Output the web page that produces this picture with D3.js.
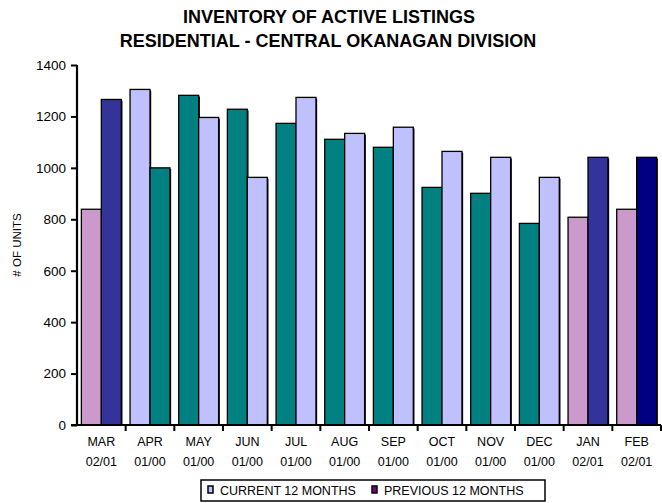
<!DOCTYPE html>
<html>
<head>
<meta charset="utf-8">
<script src="https://cdn.jsdelivr.net/npm/d3@7"></script>
<style>
  body { margin: 0; background: #fff; }
  text { font-family: "Liberation Sans", Arial, sans-serif; }
</style>
</head>
<body>
<div id="chart"></div>
<script>
var months = ["MAR", "APR", "MAY", "JUN", "JUL", "AUG", "SEP", "OCT", "NOV", "DEC", "JAN", "FEB"];
var periods = ["02/01", "01/00", "01/00", "01/00", "01/00", "01/00", "01/00", "01/00", "01/00", "01/00", "02/01", "02/01"];
var leftValues = [839, 1305, 1282, 1228, 1173, 1111, 1080, 924, 901, 784, 808, 839];
var rightValues = [1266, 1000, 1196, 963, 1274, 1134, 1158, 1064, 1041, 963, 1041, 1041];
var leftColors = ["#cc99cc", "#c0c0ff", "#008080", "#008080", "#008080", "#008080", "#008080", "#008080", "#008080", "#008080", "#cc99cc", "#cc99cc"];
var rightColors = ["#333399", "#008080", "#c0c0ff", "#c0c0ff", "#c0c0ff", "#c0c0ff", "#c0c0ff", "#c0c0ff", "#c0c0ff", "#c0c0ff", "#333399", "#000080"];
var yTicks = [0, 200, 400, 600, 800, 1000, 1200, 1400];
var legendNames = ["CURRENT 12 MONTHS", "PREVIOUS 12 MONTHS"];
var legendColors = ["#c0c0ff", "#800080"];

var width = 662, height = 503;
var margin = { top: 65, right: 1, bottom: 78, left: 77 };

var svg = d3.select("#chart").append("svg")
    .attr("width", width)
    .attr("height", height);

// titles
svg.append("text")
    .attr("x", 329).attr("y", 23)
    .attr("text-anchor", "middle")
    .attr("font-size", 18).attr("font-weight", "bold")
    .text("INVENTORY OF ACTIVE LISTINGS");
svg.append("text")
    .attr("x", 328).attr("y", 47)
    .attr("text-anchor", "middle")
    .attr("font-size", 18).attr("font-weight", "bold")
    .text("RESIDENTIAL - CENTRAL OKANAGAN DIVISION");

var x = d3.scaleBand()
    .domain(months)
    .range([margin.left, width - margin.right])
    .paddingInner(0.18)
    .paddingOuter(0.09);

var y = d3.scaleLinear()
    .domain([0, 1400])
    .range([height - margin.bottom, margin.top]);

var half = x.bandwidth() / 2;

var pairs = months.map(function(m, i) {
  return [
    { m: m, v: leftValues[i], c: leftColors[i], off: 0 },
    { m: m, v: rightValues[i], c: rightColors[i], off: half }
  ];
});
var bars = [].concat.apply([], pairs);

// shadow on the right side
svg.selectAll(".shadow")
    .data(bars)
    .enter().append("rect")
    .attr("class", "shadow")
    .attr("x", function(d) { return x(d.m) + d.off + 1.2; })
    .attr("y", function(d) { return y(d.v) + 1.2; })
    .attr("width", half)
    .attr("height", function(d) { return y(0) - y(d.v) - 1.2; })
    .attr("fill", "#000");

svg.selectAll(".bar")
    .data(bars)
    .enter().append("rect")
    .attr("class", "bar")
    .attr("x", function(d) { return x(d.m) + d.off; })
    .attr("y", function(d) { return y(d.v); })
    .attr("width", half)
    .attr("height", function(d) { return y(0) - y(d.v); })
    .attr("fill", function(d) { return d.c; })
    .attr("stroke", "#000")
    .attr("stroke-width", 1.3);

// y axis
var yAxis = svg.append("g")
    .attr("transform", "translate(" + margin.left + ",0)")
    .call(d3.axisLeft(y).tickValues(yTicks).tickFormat(d3.format("d")).tickSize(6).tickPadding(5));
yAxis.select(".domain").attr("stroke-width", 2.2).attr("d", "M0," + (y(0)) + "V" + (y(1400)));
yAxis.selectAll(".tick line").attr("stroke-width", 2);
yAxis.selectAll(".tick text")
    .attr("font-size", 13.5)
    .attr("font-family", "Liberation Sans, Arial, sans-serif")
    .attr("fill", "#000");

// x axis line and boundary ticks
svg.append("line")
    .attr("x1", margin.left - 6).attr("x2", width - margin.right)
    .attr("y1", y(0)).attr("y2", y(0))
    .attr("stroke", "#000").attr("stroke-width", 2.2);

var step = (width - margin.right - margin.left) / months.length;
svg.selectAll(".xtick")
    .data(months)
    .enter().append("line")
    .attr("x1", function(d, i) { return margin.left + (i + 1) * step; })
    .attr("x2", function(d, i) { return margin.left + (i + 1) * step; })
    .attr("y1", y(0)).attr("y2", y(0) + 6)
    .attr("stroke", "#000").attr("stroke-width", 2);

// x labels
var xl = svg.selectAll(".xl")
    .data(months)
    .enter().append("text")
    .attr("text-anchor", "middle")
    .attr("font-size", 12.5)
    .attr("x", function(d) { return x(d) + x.bandwidth() / 2; });
xl.append("tspan").attr("y", 446).text(function(d) { return d; });
xl.append("tspan")
    .attr("x", function(d) { return x(d) + x.bandwidth() / 2; })
    .attr("y", 466)
    .text(function(d, i) { return periods[i]; });

// y title
svg.append("text")
    .attr("transform", "translate(21,245) rotate(-90)")
    .attr("text-anchor", "middle")
    .attr("font-size", 11.5)
    .text("# OF UNITS");

// legend
var lg = svg.append("g");
lg.append("rect")
    .attr("x", 201).attr("y", 480).attr("width", 344).attr("height", 21)
    .attr("fill", "#fff").attr("stroke", "#000").attr("stroke-width", 1.5);
var legendX = [208, 372];
legendNames.forEach(function(n, i) {
  lg.append("rect")
      .attr("x", legendX[i]).attr("y", 486).attr("width", 5).attr("height", 7)
      .attr("fill", legendColors[i]).attr("stroke", "#000").attr("stroke-width", 1.5);
  lg.append("text")
      .attr("x", legendX[i] + 12).attr("y", 495)
      .attr("font-size", 12.5)
      .text(n);
});
</script>
</body>
</html>
